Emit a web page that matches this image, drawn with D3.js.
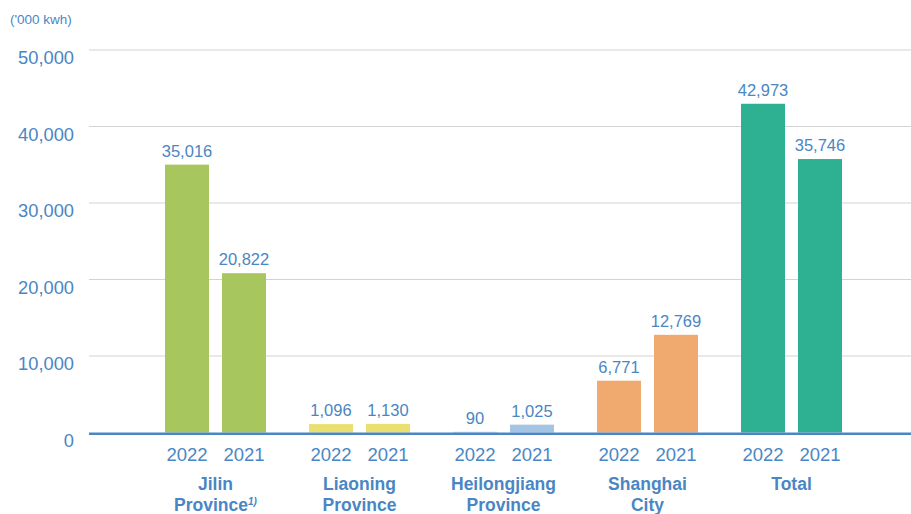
<!DOCTYPE html>
<html>
<head>
<meta charset="utf-8">
<script src="https://cdn.jsdelivr.net/npm/d3@7"></script>
<style>
  html, body { margin: 0; padding: 0; background: #fff; }
  svg { display: block; font-family: "Liberation Sans", Arial, Helvetica, sans-serif; }
</style>
</head>
<body>
<svg id="chart" width="911" height="514"></svg>
<script>
// Electricity consumption by region, 2022 vs 2021 ('000 kWh)
const regions = ["Jilin", "Liaoning", "Heilongjiang", "Shanghai", "Total"];
const regionLabels = [
  ["Jilin", "Province"],
  ["Liaoning", "Province"],
  ["Heilongjiang", "Province"],
  ["Shanghai", "City"],
  ["Total"]
];
const years = ["2022", "2021"];
const values2022 = [35016, 1096, 90, 6771, 42973];
const values2021 = [20822, 1130, 1025, 12769, 35746];
const regionColors = ["#a8c65e", "#e9e06f", "#a4c4e3", "#f0aa6f", "#2eb092"];
const yTicks = [0, 10000, 20000, 30000, 40000, 50000];
const unitLabel = "('000 kwh)";

const textBlue = "#4a86c4";
const svg = d3.select("#chart");
const W = 911;

const y = d3.scaleLinear().domain([0, 50000]).range([432.5, 50]);
const x0 = d3.scaleBand().domain(regions).range([143.5, 863.5]).paddingInner(0).paddingOuter(0);
const x1 = d3.scaleBand().domain(years).range([21.5, 122.5]).paddingInner(0.228).paddingOuter(0);

const fmt = d3.format(",");

// gridlines
svg.append("g").selectAll("line")
  .data(yTicks.filter(d => d > 0))
  .join("line")
  .attr("x1", 89).attr("x2", W)
  .attr("y1", d => y(d)).attr("y2", d => y(d))
  .attr("stroke", "#d3d3d3").attr("stroke-width", 1);

// y tick labels
svg.append("g").selectAll("text")
  .data(yTicks)
  .join("text")
  .attr("x", 74).attr("y", d => y(d) + 14)
  .attr("text-anchor", "end")
  .attr("font-size", 18.3)
  .attr("fill", textBlue)
  .text(d => fmt(d));

// unit label
svg.append("text")
  .attr("x", 10).attr("y", 24)
  .attr("font-size", 13.5)
  .attr("fill", textBlue)
  .text(unitLabel);

// bars
const rows = regions.map((r, i) => ({
  region: r, color: regionColors[i],
  bars: [{ year: "2022", value: values2022[i] }, { year: "2021", value: values2021[i] }]
}));

const groups = svg.append("g").selectAll("g")
  .data(rows)
  .join("g")
  .attr("transform", d => `translate(${x0(d.region)},0)`);

groups.selectAll("rect")
  .data(d => d.bars.map(b => ({ ...b, color: d.color })))
  .join("rect")
  .attr("x", d => x1(d.year))
  .attr("width", x1.bandwidth())
  .attr("y", d => y(d.value))
  .attr("height", d => y(0) - y(d.value))
  .attr("fill", d => d.color);

// value labels
groups.selectAll("text.val")
  .data(d => d.bars)
  .join("text")
  .attr("class", "val")
  .attr("x", d => x1(d.year) + x1.bandwidth() / 2)
  .attr("y", d => y(d.value) - 8)
  .attr("text-anchor", "middle")
  .attr("font-size", 16.5)
  .attr("fill", textBlue)
  .text(d => fmt(d.value));

// year labels
groups.selectAll("text.yr")
  .data(years)
  .join("text")
  .attr("class", "yr")
  .attr("x", d => x1(d) + x1.bandwidth() / 2)
  .attr("y", 461)
  .attr("text-anchor", "middle")
  .attr("font-size", 18.5)
  .attr("fill", textBlue)
  .text(d => d);

// region labels
groups.each(function(d, i) {
  const t = d3.select(this).append("text")
    .attr("text-anchor", "middle")
    .attr("font-size", 17.5)
    .attr("font-weight", "bold")
    .attr("fill", textBlue);
  regionLabels[i].forEach((line, j) => {
    t.append("tspan")
      .attr("x", x0.bandwidth() / 2)
      .attr("y", 490 + j * 20.5)
      .text(line);
    if (i === 0 && j === 1) {
      t.append("tspan")
        .attr("font-size", 10)
        .attr("font-style", "italic")
        .attr("dy", -6)
        .text("1)");
    }
  });
});

// baseline, drawn just under the zero line so small bars stay visible
svg.append("line")
  .attr("x1", 89).attr("x2", W)
  .attr("y1", y(0) + 1.25).attr("y2", y(0) + 1.25)
  .attr("stroke", "#4a86c4").attr("stroke-width", 2.5);
</script>
</body>
</html>
